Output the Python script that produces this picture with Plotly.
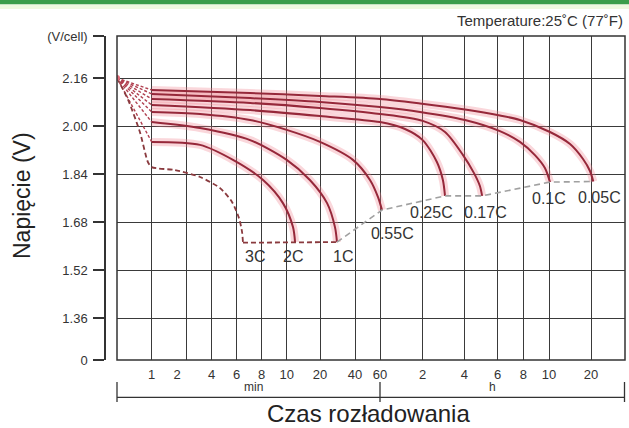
import numpy as np
import plotly.graph_objects as go

# ---------------- axis scale (custom discharge-time axis) ----------------
GRID_TIMES = [1, 2, 4, 6, 8, 10, 20, 40, 60, 120, 240, 360, 480, 600, 1200]   # minutes
GRID_POS = [151.7, 186, 211.7, 236.7, 261.7, 286.7, 320, 355, 380,
            422.7, 464.3, 497.7, 523.3, 549, 591]
TICK_TEXT = ["1", "2", "4", "6", "8", "10", "20", "40", "60",
             "2", "4", "6", "8", "10", "20"]
TICK_POS = [151.7, 177, 211.7, 236.7, 261.7, 286.7, 320, 355, 380,
            422.7, 464.3, 497.7, 523.3, 549, 591]
X_MIN, X_MAX = 117, 625

Y_TICKS = [1.22, 1.36, 1.52, 1.68, 1.84, 2.00, 2.16, 2.30]
Y_TEXT = ["0", "1.36", "1.52", "1.68", "1.84", "2.00", "2.16", "(V/cell)"]

# ---------------- data (time in minutes, voltage per cell) ----------------
V_INITIAL = 2.16
RATES = ["0.05C", "0.1C", "0.17C", "0.25C", "0.55C", "1C", "2C"]
T_005 = [1, 7, 20, 60, 115, 242, 369, 462, 610, 849, 1052, 1180, 1246]
V_005 = [2.12, 2.11, 2.10, 2.09, 2.075, 2.055, 2.035, 2.02, 1.98, 1.94, 1.89, 1.85, 1.815]
T_01 = [1, 7, 20, 60, 115, 242, 369, 462, 531, 579, 610]
V_01 = [2.107, 2.093, 2.08, 2.063, 2.047, 2.02, 1.983, 1.947, 1.903, 1.86, 1.813]
T_017 = [1, 7, 20, 60, 120, 174, 235, 270, 290, 298]
V_017 = [2.09, 2.077, 2.06, 2.04, 2.017, 1.98, 1.903, 1.843, 1.80, 1.767]
T_025 = [1, 7, 20, 60, 90, 120, 152, 168, 174]
V_025 = [2.07, 2.053, 2.033, 2.013, 1.99, 1.953, 1.88, 1.82, 1.767]
T_055 = [1, 2.92, 7, 10, 20, 38.4, 51, 58.1, 62]
V_055 = [2.047, 2.04, 2.02, 1.987, 1.947, 1.887, 1.82, 1.763, 1.72]
T_1 = [1, 2.92, 7, 10, 16.2, 23, 26.9, 28]
V_1 = [2.013, 1.993, 1.953, 1.887, 1.82, 1.743, 1.663, 1.613]
T_2 = [1, 2.92, 5.65, 8.1, 9.67, 11.4, 11.9]
V_2 = [1.947, 1.937, 1.887, 1.82, 1.743, 1.663, 1.613]
T_3 = [0, 0.32, 0.66, 0.89, 1, 1.6, 2.92, 4.58, 5.56, 6.16, 6.38, 6.45]
V_3 = [2.16, 2.087, 1.98, 1.88, 1.863, 1.853, 1.83, 1.793, 1.747, 1.693, 1.647, 1.611]

T_FLOOR = [6.45, 11.9, 28]
V_FLOOR = [1.611, 1.612, 1.613]
T_CUTOFF = [28, 62, 174, 298, 610, 1246]
V_CUTOFF = [1.613, 1.72, 1.767, 1.767, 1.813, 1.815]

CURVES_T = [T_005, T_01, T_017, T_025, T_055, T_1, T_2]
CURVES_V = [V_005, V_01, V_017, V_025, V_055, V_1, V_2]

LABEL_SHIFT = {"3C": (12, -14), "2C": (-2, -14), "1C": (6, -14), "0.55C": (10, -23),
               "0.25C": (-14, -17), "0.17C": (3, -17), "0.1C": (-1, -16), "0.05C": (6, -16)}


def x_of(t):
    t = np.asarray(t, float)
    lg = np.log(GRID_TIMES)
    lt = np.log(np.maximum(t, 1e-9))
    pos = np.interp(lt, lg, GRID_POS)
    slope = (GRID_POS[-1] - GRID_POS[-2]) / (lg[-1] - lg[-2])
    pos = np.where(t > GRID_TIMES[-1], GRID_POS[-1] + slope * (lt - lg[-1]), pos)
    pos = np.where(t < 1, X_MIN + t * (GRID_POS[0] - X_MIN), pos)
    return pos


RED = "#96283a"
HALO = "rgba(238,130,142,0.32)"
fig = go.Figure()

# initial voltage drop (dashed fan)
for tv, vv in zip(CURVES_T, CURVES_V):
    fig.add_trace(go.Scatter(x=x_of([0, tv[0]]), y=[V_INITIAL, vv[0]], mode="lines",
                             line=dict(color="#b04050", width=1.4, dash="3px,2px"),
                             hoverinfo="skip"))

# solid discharge curves with pink halo
for tv, vv in zip(CURVES_T, CURVES_V):
    fig.add_trace(go.Scatter(x=x_of(tv), y=vv, mode="lines",
                             line=dict(color=HALO, width=8, shape="spline", smoothing=0.8),
                             hoverinfo="skip"))
for tv, vv in zip(CURVES_T, CURVES_V):
    fig.add_trace(go.Scatter(x=x_of(tv), y=vv, mode="lines",
                             line=dict(color=RED, width=2, shape="spline", smoothing=0.8)))

# 3C dashed curve and floor
fig.add_trace(go.Scatter(x=x_of(T_3), y=V_3, mode="lines",
                         line=dict(color="#8a3a3e", width=1.8, dash="5px,3px", shape="spline", smoothing=0.7)))
fig.add_trace(go.Scatter(x=x_of(T_FLOOR), y=V_FLOOR, mode="lines",
                         line=dict(color="#8a3a3e", width=1.8, dash="5px,3px")))
fig.add_trace(go.Scatter(x=x_of(T_CUTOFF), y=V_CUTOFF, mode="lines",
                         line=dict(color="#a0a0a0", width=1.6, dash="6px,4px")))
fig.add_trace(go.Scatter(x=x_of([0]), y=[V_INITIAL], mode="markers",
                         marker=dict(color="#e06a78", size=6)))

# rate labels at curve ends
ends = [("3C", T_3[-1], V_3[-1])] + [(r, t[-1], v[-1]) for r, t, v in
                                    zip(RATES, CURVES_T, CURVES_V)]
annotations = []
for name, te, ve in ends:
    dx, dy = LABEL_SHIFT[name]
    annotations.append(dict(x=float(x_of([te])[0]), y=ve, xref="x", yref="y", text=name,
                            showarrow=False, xshift=dx, yshift=dy,
                            xanchor="center", yanchor="middle",
                            font=dict(size=16, color="#333")))

PW, PH, L = 520, 324, 105
def px(X):
    return (X - L) / PW
def py(Y):
    return (360 - Y) / PH

def note(X, Y, text, size, color="#333", **kw):
    d = dict(x=px(X), y=py(Y), xref="paper", yref="paper", text=text, showarrow=False,
             xanchor="center", yanchor="middle", font=dict(size=size, color=color))
    d.update(kw)
    return d

annotations += [
    note(253, 387, "min", 12),
    note(492, 387, "h", 12),
    note(368, 413, "Czas rozładowania", 24, "#222"),
    note(22, 196, "Napięcie (V)", 23, "#222", textangle=-90),
    note(625, 20, "Temperature:25˚C (77˚F)", 15, xanchor="right"),
]

shapes = [
    dict(type="rect", xref="paper", yref="paper", x0=px(0), x1=px(629), y0=py(0), y1=py(4.5),
         fillcolor="#3a9d4a", line=dict(width=0), layer="above"),
    dict(type="rect", xref="paper", yref="paper", x0=px(0), x1=px(629), y0=py(4.5), y1=py(9),
         fillcolor="#eef8df", line=dict(width=0), layer="above"),
    dict(type="rect", xref="x domain", yref="y domain", x0=0, x1=1, y0=0, y1=1,
         line=dict(color="#333", width=1.5)),
    dict(type="line", xref="paper", yref="paper", x0=px(117), x1=px(625), y0=py(397.4), y1=py(397.4),
         line=dict(color="#333", width=1.3)),
]
for X in (117, 380, 624.5):
    shapes.append(dict(type="line", xref="paper", yref="paper", x0=px(X), x1=px(X),
                       y0=py(382), y1=py(402), line=dict(color="#333", width=1.3)))

fig.update_layout(
    width=629, height=428,
    margin=dict(l=L, r=4, t=36, b=68),
    paper_bgcolor="white", plot_bgcolor="white", showlegend=False,
    font=dict(family="Liberation Sans, Arial, sans-serif", color="#333"),
    xaxis=dict(domain=[12 / PW, 1], range=[X_MIN, X_MAX], showgrid=False, zeroline=False,
               showline=False, tickmode="array", tickvals=TICK_POS, ticktext=TICK_TEXT,
               ticks="", tickfont=dict(size=13, color="#333"), ticklabelstandoff=5,
               minor=dict(tickmode="array", tickvals=GRID_POS, showgrid=True,
                          gridcolor="#3a3a3a", gridwidth=1.2, ticks="")),
    yaxis=dict(anchor="free", position=0, range=[1.22, 2.30], tickmode="array",
               tickvals=Y_TICKS, ticktext=Y_TEXT, showgrid=True, gridcolor="#3a3a3a",
               gridwidth=1.2, zeroline=False, showline=True, linecolor="#333", linewidth=1.5,
               ticks="outside", ticklen=11, tickwidth=1.5, tickcolor="#333",
               tickfont=dict(size=13, color="#333"), ticklabelstandoff=3),
    annotations=annotations, shapes=shapes,
)

fig.write_html("out.html", config={"displayModeBar": False})
with open("out.html", "r", encoding="utf-8") as f:
    html = f.read()
html = html.replace("<head>", "<head><style>html,body{margin:0;padding:0;overflow:hidden;}</style>", 1)
with open("out.html", "w", encoding="utf-8") as f:
    f.write(html)
